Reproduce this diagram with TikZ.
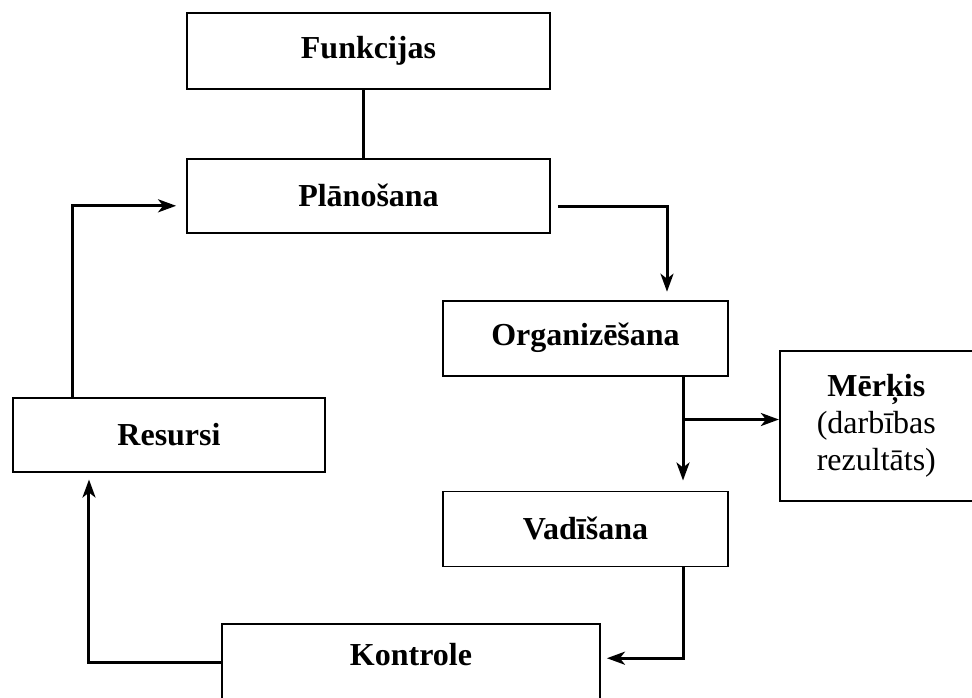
\documentclass[tikz,border=0pt]{standalone}
\usepackage{fontspec}
\setmainfont{Liberation Serif}
\usepackage{tikz}
\usetikzlibrary{arrows.meta, positioning}
\tikzstyle{stage}=[rectangle, draw=black, line width=0.9pt, inner sep=0pt, text centered, font=\fontsize{16pt}{18.5pt}\selectfont\bfseries]
\tikzstyle{goal}=[rectangle, draw=black, line width=0.9pt, inner sep=0pt, align=center, font=\fontsize{16pt}{18.5pt}\selectfont]
\tikzstyle{link}=[line width=1.5pt]
\tikzstyle{arrow}=[line width=1.5pt, ->, >={Stealth[length=9pt, width=6.5pt, inset=2.5pt]}]

\begin{document}
\begin{tikzpicture}[node distance=34pt]
		\useasboundingbox (-184.25pt,-323pt) rectangle (301.75pt,25.5pt);
		
		\node(n0)[stage, minimum width=181.5pt, minimum height=38pt]{Funkcijas};
		
		
		\node(n1)[stage, below=of n0, minimum width=181.5pt, minimum height=37pt]{Plānošana};
		
		
		\node(n2)[stage, below=33pt of n1, xshift=108.5pt, minimum width=142.5pt, minimum height=37.5pt]{Organizēšana};
		
		
		\node(n2-1)[goal, right=25pt of n2, yshift=-44pt, minimum width=96.5pt, minimum height=75pt]{\textbf{Mērķis}\\(darbības\\rezultāts)};
		
		
		\node(n3)[stage, below=57pt of n2, minimum width=142.5pt, minimum height=37.5pt]{Vadīšana};
		
		
		\node(n4)[stage, below=28pt of n3, xshift=-87.25pt, minimum width=189pt, minimum height=45pt, text height=11pt, text depth=15pt]{Kontrole};
		
		
		\node(n5)[stage, below=81.5pt of n1, xshift=-99.75pt, minimum width=156pt, minimum height=37pt]{Resursi};
		
		
		\coordinate(g1) at ([xshift=48.75pt, yshift=-21.5pt]n2.south);
		
		
		\draw[link]([xshift=-2.5pt]n0.south)--([xshift=-2.5pt]n1.north);
		\draw[arrow]([xshift=3.5pt, yshift=-5.5pt]n1.east) -| ([xshift=40.75pt, yshift=4pt]n2.north);
		\draw[arrow]([xshift=48.75pt]n2.south)--([xshift=48.75pt, yshift=5pt]n3.north);
		\draw[arrow](g1)--(g1 -| n2-1.west);
		\draw[arrow]([xshift=48.75pt]n3.south) |- ([xshift=3pt, yshift=5.5pt]n4.east);
		\draw[arrow]([yshift=3.5pt]n4.west) -| ([xshift=-40pt, yshift=-3.5pt]n5.south);
		\draw[arrow]([xshift=-48pt]n5.north) |- ([xshift=-5pt, yshift=-5pt]n1.west);
		
	\end{tikzpicture}
\end{document}
